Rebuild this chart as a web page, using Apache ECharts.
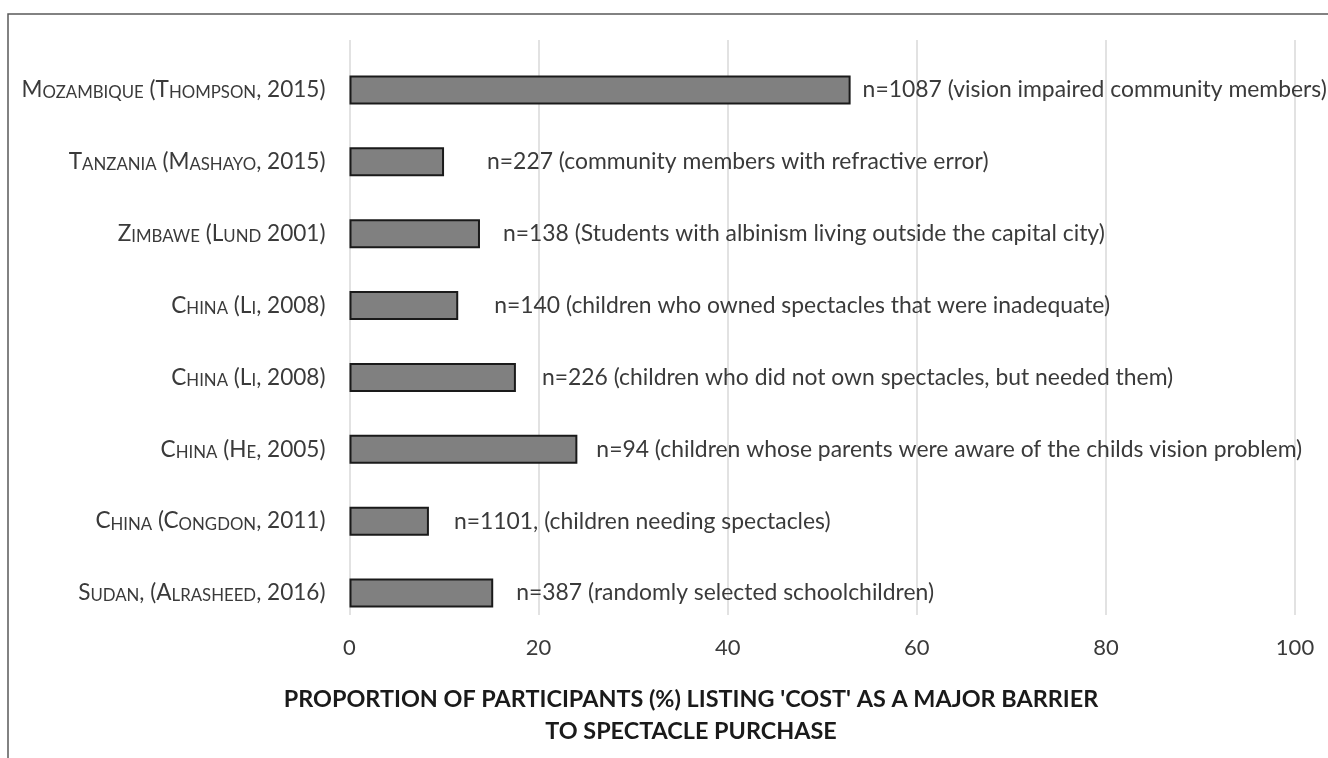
<!DOCTYPE html>
<html>
<head>
<meta charset="utf-8">
<title>Cost as a barrier to spectacle purchase</title>
<script src="https://cdn.jsdelivr.net/npm/echarts@6/dist/echarts.min.js"></script>
<style>
  html, body { margin: 0; padding: 0; background: #fff; }
  #main { width: 1328px; height: 758px; }
</style>
</head>
<body>
<div id="main"></div>
<script>
// 数据
var studies = [
  "Mozambique (Thompson, 2015)",
  "Tanzania (Mashayo, 2015)",
  "Zimbawe (Lund 2001)",
  "China (Li, 2008)",
  "China (Li, 2008)",
  "China (He, 2005)",
  "China (Congdon, 2011)",
  "Sudan, (Alrasheed, 2016)"
];
var costPercent = [53.0, 10.0, 13.8, 11.5, 17.6, 24.1, 8.4, 15.2];
var sampleNotes = [
  "n=1087 (vision impaired community members)",
  "n=227 (community members with refractive error)",
  "n=138 (Students with albinism living outside the capital city)",
  "n=140 (children who owned spectacles that were inadequate)",
  "n=226 (children who did not own spectacles, but needed them)",
  "n=94 (children whose parents were aware of the childs vision problem)",
  "n=1101, (children needing spectacles)",
  "n=387 (randomly selected schoolchildren)"
];
var xTicks = [0, 20, 40, 60, 80, 100];
var titleLines = [
  "PROPORTION OF PARTICIPANTS (%) LISTING 'COST' AS A MAJOR BARRIER",
  "TO SPECTACLE PURCHASE"
];

// 标签离柱子的距离（样式）
var labelGap = [12, 43, 23, 36, 26, 19, 25, 23];

(function () {
  var myChart = echarts.init(document.getElementById("main"));
  var font = "Lato";
  var textColor = "#3a3a3a";

  // 小型大写字母：小写字母改成小一号的大写
  function smallCaps(s) {
    return s.replace(/[a-z]+|[^a-z]+/g, function (part) {
      return /[a-z]/.test(part) ? "{s|" + part.toUpperCase() + "}" : "{b|" + part + "}";
    });
  }

  var barData = costPercent.map(function (v, i) {
    return { value: v, label: { distance: labelGap[i] } };
  });

  var option = {
    backgroundColor: "#fff",
    animation: false,
    grid: [
      // 只画网格线
      { left: 349.5, right: 33, top: 40, bottom: 143 },
      // 柱子
      { left: 349.5, right: 33, top: 54, bottom: 129 }
    ],
    xAxis: [
      {
        gridIndex: 0,
        type: "value",
        min: xTicks[0],
        max: xTicks[xTicks.length - 1],
        interval: 20,
        axisLine: { show: false },
        axisTick: { show: false },
        axisLabel: {
          margin: 22,
          color: textColor,
          fontSize: 22,
          fontFamily: font
        },
        splitLine: { lineStyle: { color: "#d9d9d9", width: 1.5 } }
      },
      {
        gridIndex: 1,
        type: "value",
        min: xTicks[0],
        max: xTicks[xTicks.length - 1],
        show: false,
        splitLine: { show: false }
      }
    ],
    yAxis: [
      {
        gridIndex: 0,
        type: "category",
        data: studies,
        show: false
      },
      {
        gridIndex: 1,
        type: "category",
        data: studies,
        inverse: true,
        axisLine: { show: false },
        axisTick: { show: false },
        splitLine: { show: false },
        axisLabel: {
          margin: 24,
          color: textColor,
          formatter: function (value) {
            return smallCaps(value);
          },
          rich: {
            b: { fontSize: 22.6, fontFamily: font, color: textColor, verticalAlign: "bottom" },
            s: { fontSize: 16.8, fontFamily: font, color: textColor, verticalAlign: "bottom" }
          }
        }
      }
    ],
    series: [
      {
        name: "Cost",
        type: "bar",
        xAxisIndex: 1,
        yAxisIndex: 1,
        barWidth: 29,
        data: barData,
        itemStyle: {
          color: "#808080",
          borderColor: "#1a1a1a",
          borderWidth: 2
        },
        label: {
          show: true,
          position: "right",
          color: textColor,
          fontSize: 22.9,
          fontFamily: font,
          formatter: function (params) {
            return sampleNotes[params.dataIndex];
          }
        }
      }
    ],
    graphic: [
      {
        type: "rect",
        silent: true,
        shape: { x: 8, y: 14, width: 1400, height: 900 },
        style: { fill: "none", stroke: "#595959", lineWidth: 1.5 }
      },
      {
        type: "text",
        silent: true,
        x: 691,
        y: 683,
        style: {
          text: titleLines.join("\n"),
          align: "center",
          font: "bold 23.4px " + font,
          lineHeight: 32,
          fill: "#1a1a1a"
        }
      }
    ]
  };

  myChart.setOption(option);
  window.addEventListener("resize", function () {
    myChart.resize();
  });
})();
</script>
</body>
</html>
